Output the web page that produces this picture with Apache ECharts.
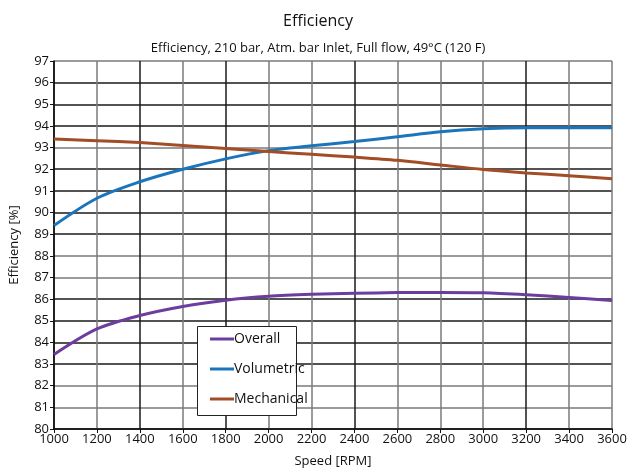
<!DOCTYPE html>
<html>
<head>
<meta charset="utf-8">
<script src="https://cdn.jsdelivr.net/npm/echarts@6/dist/echarts.min.js"></script>
<style>
  html, body { margin: 0; padding: 0; background: #fff; }
  #chart { width: 636px; height: 473px; }
</style>
</head>
<body>
<div id="chart"></div>
<script>
const speeds = [1000, 1200, 1400, 1600, 1800, 2000, 2200, 2400, 2600, 2800, 3000, 3200, 3400, 3600];
const overall = [83.44, 84.62, 85.24, 85.66, 85.95, 86.13, 86.22, 86.27, 86.3, 86.31, 86.29, 86.2, 86.08, 85.94];
const volumetric = [89.4, 90.66, 91.42, 92.0, 92.48, 92.86, 93.08, 93.28, 93.5, 93.73, 93.87, 93.92, 93.92, 93.92];
const mechanical = [93.4, 93.32, 93.23, 93.1, 92.96, 92.82, 92.69, 92.56, 92.41, 92.2, 91.99, 91.83, 91.7, 91.56];

const font = 'Open Sans';
const dark = '#1a1a1a';
const grey = '#7a7a7a';

const chart = echarts.init(document.getElementById('chart'));

const toPairs = (vals) => speeds.map((s, i) => [s, vals[i]]);

const lineSeries = (name, vals, color) => ({
  name: name,
  type: 'line',
  smooth: 0.3,
  showSymbol: false,
  data: toPairs(vals),
  color: color,
  lineStyle: { width: 3 }
});

const option = {
  backgroundColor: '#fff',
  animation: false,
  title: [
    {
      text: 'Efficiency',
      left: 'center',
      top: 8,
      textStyle: { fontFamily: font, fontSize: 16, fontWeight: 'normal', color: '#111' }
    },
    {
      text: 'Efficiency, 210 bar, Atm. bar Inlet, Full flow, 49°C (120 F)',
      left: 'center',
      top: 37,
      textStyle: { fontFamily: font, fontSize: 13, fontWeight: 'normal', color: '#111' }
    }
  ],
  grid: { left: 48, right: 24, top: 61, bottom: 41 },
  legend: {
    orient: 'vertical',
    left: 210,
    top: 331,
    itemWidth: 24,
    itemHeight: 3,
    itemGap: 14,
    padding: 0,
    icon: 'rect',
    textStyle: { fontFamily: font, fontSize: 14, lineHeight: 16, color: '#111', padding: [0, 0, 0, -5] },
    data: ['Overall', 'Volumetric', 'Mechanical']
  },
  graphic: [
    {
      type: 'rect',
      left: 197,
      top: 326,
      z: 3,
      shape: { width: 99, height: 89 },
      style: { fill: '#fff', stroke: '#222', lineWidth: 1 }
    }
  ],
  xAxis: {
    type: 'value',
    min: 1000,
    max: 3600,
    interval: 200,
    name: 'Speed [RPM]',
    nameLocation: 'middle',
    nameGap: 26,
    nameTextStyle: { fontFamily: font, fontSize: 13, color: '#111' },
    axisLine: { lineStyle: { color: '#111', width: 1.5 } },
    axisTick: { length: 4, lineStyle: { color: '#111' } },
    axisLabel: { fontFamily: font, fontSize: 13, color: '#111', margin: 4, formatter: (v) => String(v) },
    splitLine: {
      lineStyle: {
        width: 1.5,
        color: [dark, grey, dark, grey, dark, grey, grey, dark, grey, grey, grey, dark, grey, grey]
      }
    }
  },
  yAxis: {
    type: 'value',
    min: 80,
    max: 97,
    interval: 1,
    name: 'Efficiency [%]',
    nameLocation: 'middle',
    nameGap: 33,
    nameTextStyle: { fontFamily: font, fontSize: 13, color: '#111' },
    axisLine: { show: true, lineStyle: { color: '#111', width: 1.5 } },
    axisTick: { show: true, length: 4, lineStyle: { color: '#111' } },
    axisLabel: { fontFamily: font, fontSize: 13, color: '#111', margin: 5 },
    splitLine: {
      lineStyle: {
        width: 1.5,
        color: [dark, grey, grey, dark, dark, dark, dark, grey, grey, dark, dark, dark, dark, grey, dark, dark, dark, grey]
      }
    }
  },
  series: [
    lineSeries('Overall', overall, '#6c3d9e'),
    lineSeries('Volumetric', volumetric, '#1b75bb'),
    lineSeries('Mechanical', mechanical, '#a24d26')
  ]
};

chart.setOption(option);
</script>
</body>
</html>
